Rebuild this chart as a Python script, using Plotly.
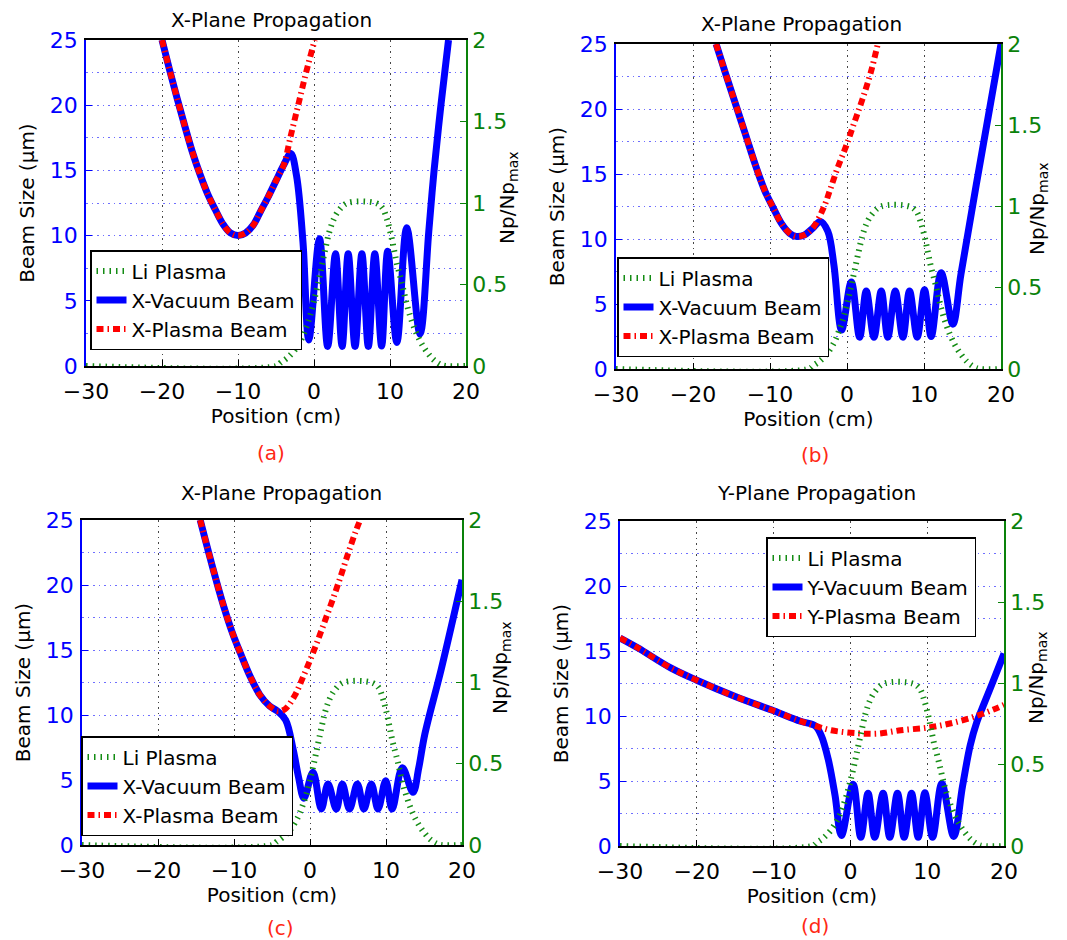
import plotly.graph_objects as go

W, H = 1067, 940

# ---------------- data ----------------
# Li plasma density profile (Np/Np_max), same in every panel
li_x = [-30, -5.0, -4.4, -3.5, -2.5, -1.6, -1.0, -0.5, 0.0, 0.5, 1.0, 1.5, 2.0, 2.5, 3.2, 4.4,
        8.1, 9.0, 9.6, 10.1, 10.5, 10.9, 11.4, 11.8, 12.2, 12.7, 13.3, 14.0, 14.8, 15.7, 16.6, 17.3, 20]
li_v = [0, 0, 0.02, 0.05, 0.10, 0.17, 0.24, 0.31, 0.40, 0.50, 0.61, 0.72, 0.82, 0.89, 0.95, 1.0,
        1.0, 0.97, 0.90, 0.81, 0.72, 0.63, 0.54, 0.46, 0.38, 0.30, 0.22, 0.15, 0.09, 0.04, 0.01, 0, 0]

# (a) X-plane
a_vac_x = [-20.0, -19, -18, -17, -16, -15, -14, -13, -12, -11, -10, -9, -8, -7, -6, -5, -4, -3.06,
           -2.3, -1.45, -0.68, 0.72, 1.8, 2.83, 3.7, 4.5, 5.4, 6.3, 7.15, 8.0, 8.9, 9.7, 10.9, 12.2,
           13.95, 15.1, 15.8, 16.7, 17.7]
a_vac_y = [25.0, 22.7, 20.5, 18.4, 16.4, 14.7, 13.2, 12.0, 10.9, 10.2, 10.0, 10.2, 10.8, 11.9, 13.0, 14.2, 15.4, 16.3,
           14.6, 9.5, 2.0, 9.75, 1.5, 8.6, 1.5, 8.6, 1.5, 8.6, 1.5, 8.6, 1.53, 8.8, 1.8, 10.6,
           2.45, 10.3, 15.0, 20.0, 25.0]
a_pla_x = [-20.0, -19, -18, -17, -16, -15, -14, -13, -12, -11, -10, -9, -8, -7, -6, -5, -4, -3, -2, -1, 0.1]
a_pla_y = [25.0, 22.7, 20.5, 18.4, 16.4, 14.7, 13.2, 12.0, 10.9, 10.2, 10.0, 10.2, 10.8, 11.9, 13.0, 14.2, 15.4,
           17.8, 20.2, 22.6, 25.0]

# (b) X-plane
b_vac_x = [-17.0, -15.7, -14.43, -13.16, -11.9, -10.63, -9.58, -8.52, -7.47, -6.62, -5.57, -4.5, -3.46,
           -2.5, -1.7, -0.7, 0.56, 1.64, 2.5, 3.5, 4.45, 5.3, 6.27, 7.26, 8.12, 9.12, 10.07, 10.93, 12.23,
           13.74, 14.8, 17.0, 20.0]
b_vac_y = [25.0, 22.6, 20.3, 18.0, 15.7, 13.65, 12.4, 11.2, 10.45, 10.2, 10.3, 10.8, 11.35,
           10.6, 8.0, 3.0, 6.7, 2.45, 6.0, 2.45, 6.0, 2.45, 6.0, 2.45, 6.0, 2.45, 6.1, 2.5, 7.4,
           3.45, 7.3, 14.9, 25.0]
b_pla_x = [-17.0, -15.7, -14.43, -13.16, -11.9, -10.63, -9.58, -8.52, -7.47, -6.62, -5.57, -4.5,
           -3.04, -2.19, -1.14, -0.08, 0.97, 2.03, 3.08, 4.0]
b_pla_y = [25.0, 22.6, 20.3, 18.0, 15.7, 13.65, 12.4, 11.2, 10.45, 10.2, 10.3, 10.8,
           12.4, 13.8, 15.6, 17.2, 19.0, 20.8, 22.8, 25.0]

# (c) X-plane
c_vac_x = [-14.45, -12.97, -11.48, -10.2, -9.15, -7.9, -6.6, -5.34, -4.28, -3.2, -2.2, -1.5, -0.8,
           0.39, 1.49, 2.37, 3.46, 4.25, 5.2, 6.23, 7.1, 8.07, 8.95, 9.96, 10.8, 12.15, 13.55,
           14.3, 15.1, 17.3, 20.0]
c_vac_y = [25.0, 21.7, 18.6, 16.3, 14.75, 13.0, 11.55, 10.7, 10.3, 9.6, 7.3, 5.2, 3.6,
           5.6, 2.77, 4.7, 2.77, 4.7, 2.77, 4.7, 2.77, 4.7, 2.77, 4.95, 2.77, 5.95, 4.05,
           5.9, 8.5, 13.6, 20.4]
c_pla_x = [-14.45, -12.97, -11.48, -10.2, -9.15, -7.9, -6.6, -5.34, -4.28, -3.3, -2.0, -1.0, 0.0,
           1.0, 2.0, 3.0, 4.0, 5.0, 6.0, 6.6]
c_pla_y = [25.0, 21.7, 18.6, 16.3, 14.75, 13.0, 11.55, 10.7, 10.3, 10.45, 11.5, 12.8, 14.2,
           15.7, 17.3, 18.9, 20.6, 22.4, 24.1, 25.0]

# (d) Y-plane
d_vac_x = [-30, -27.7, -23.4, -20, -15, -10, -6.5, -4.6, -3.8, -2.9, -2.0, -1.17,
           0.35, 1.35, 2.3, 3.17, 4.26, 5.13, 6.13, 7.0, 7.96, 8.83, 9.7, 10.7, 11.9, 13.45,
           14.6, 15.6, 16.47, 17.3, 18.4, 20.0]
d_vac_y = [16.0, 15.25, 13.7, 12.75, 11.5, 10.4, 9.6, 9.25, 8.5, 6.7, 3.9, 0.8,
           4.75, 0.67, 4.05, 0.67, 4.05, 0.67, 4.05, 0.67, 4.05, 0.67, 4.1, 0.67, 4.8, 0.74,
           4.6, 7.74, 9.54, 10.8, 12.4, 14.8]
d_pla_x = [-30, -27.7, -23.4, -20, -15, -10, -6.5, -4.6, -2.5, 1.0, 3.53, 6.55, 10.0, 12.8, 16.0, 19.05, 20.0]
d_pla_y = [16.0, 15.25, 13.7, 12.75, 11.5, 10.4, 9.6, 9.25, 8.9, 8.67, 8.64, 8.9, 9.1, 9.4, 9.92, 10.6, 10.85]

titles = ["X-Plane Propagation", "X-Plane Propagation", "X-Plane Propagation", "Y-Plane Propagation"]
captions = ["(a)", "(b)", "(c)", "(d)"]
li_name = "Li Plasma"
vac_names = ["X-Vacuum Beam", "X-Vacuum Beam", "X-Vacuum Beam", "Y-Vacuum Beam"]
pla_names = ["X-Plasma Beam", "X-Plasma Beam", "X-Plasma Beam", "Y-Plasma Beam"]
x_title = "Position (cm)"
y_left_title = "Beam Size (\u03bcm)"
y_right_title = "Np/Np<sub>max</sub>"
x_ticks = [-30, -20, -10, 0, 10, 20]
y_left_ticks = [0, 5, 10, 15, 20, 25]
y_right_ticks = [0, 0.5, 1, 1.5, 2]

vac = [(a_vac_x, a_vac_y), (b_vac_x, b_vac_y), (c_vac_x, c_vac_y), (d_vac_x, d_vac_y)]
pla = [(a_pla_x, a_pla_y), (b_pla_x, b_pla_y), (c_pla_x, c_pla_y), (d_pla_x, d_pla_y)]

# ---------------- styling / layout ----------------
FONT = "DejaVu Sans"
BLUE = "rgb(0,0,255)"
RED = "rgb(255,0,0)"
GREEN = "rgb(20,140,20)"
TICK_GREEN = "rgb(10,130,10)"
GRID_BLUE = "rgb(110,110,255)"
GRID_BLACK = "rgb(70,70,70)"
GRID_DASH = "1.5px,4px"

# plot-area boxes in pixels (left, right, top, bottom)
boxes = [(78, 458, 32, 358), (608, 993, 36, 361), (74, 454, 512, 837), (612, 996, 513, 838)]
title_pos = [(263, 12), (793, 16), (273, 485), (808, 485)]
cap_pos = [(263, 445), (807, 447), (272, 920), (807, 918)]
leg_pos = [(82, 242), (609, 249), (73, 728), (758, 529)]
rtitle_pos = [(500, 190), (1030, 201), (493, 660), (1029, 670)]

fig = go.Figure()
layout = dict(
    width=W, height=H, margin=dict(l=0, r=0, t=0, b=0), autosize=False,
    paper_bgcolor="white", plot_bgcolor="white",
    font=dict(family=FONT, size=20, color="black"),
    showlegend=True, annotations=[],
)

for i in range(4):
    xa = "x" if i == 0 else f"x{i + 1}"
    yl = "y" if i == 0 else f"y{2 * i + 1}"
    yr = f"y{2 * i + 2}"
    leg = "legend" if i == 0 else f"legend{i + 1}"
    l, r, t, b = boxes[i]
    xdom = [l / W, r / W]
    ydom = [1 - b / H, 1 - t / H]

    fig.add_trace(go.Scatter(x=li_x, y=li_v, xaxis=xa, yaxis=yr, mode="lines", name=li_name,
                             legend=leg, line=dict(color=GREEN, width=6, dash="1.5px,5px", shape="spline")))
    fig.add_trace(go.Scatter(x=vac[i][0], y=vac[i][1], xaxis=xa, yaxis=yl, mode="lines", name=vac_names[i],
                             legend=leg, line=dict(color=BLUE, width=7, shape="spline")))
    fig.add_trace(go.Scatter(x=pla[i][0], y=pla[i][1], xaxis=xa, yaxis=yl, mode="lines", name=pla_names[i],
                             legend=leg, line=dict(color=RED, width=6, dash="7px,4px,1.5px,4px", shape="spline")))

    xkey = "xaxis" if i == 0 else f"xaxis{i + 1}"
    ylkey = "yaxis" if i == 0 else f"yaxis{2 * i + 1}"
    yrkey = f"yaxis{2 * i + 2}"
    layout[xkey] = dict(
        domain=xdom, anchor=yl, range=[-30, 20], tickmode="array", tickvals=x_ticks,
        ticks="inside", ticklen=6, tickcolor="black", showline=True, linecolor="black", linewidth=1.5,
        mirror=True, showgrid=True, gridcolor=GRID_BLACK, griddash=GRID_DASH, gridwidth=1,
        zeroline=False, tickfont=dict(size=22, color="black", family=FONT), ticklabelstandoff=5,
        title=dict(text=x_title, font=dict(size=20, color="black"), standoff=0),
        automargin=False,
    )
    layout[ylkey] = dict(
        domain=ydom, anchor=xa, range=[0, 25], tickmode="array", tickvals=y_left_ticks,
        ticks="inside", ticklen=6, tickcolor=BLUE, showline=True, linecolor=BLUE, linewidth=1.5,
        showgrid=True, gridcolor=GRID_BLUE, griddash=GRID_DASH, gridwidth=1, zeroline=False,
        minor=dict(dtick=2.5, tick0=0, showgrid=True, gridcolor=GRID_BLUE, griddash=GRID_DASH, gridwidth=1),
        tickfont=dict(size=22, color=BLUE, family=FONT), ticklabelstandoff=2,
        title=dict(text=y_left_title, font=dict(size=20, color="black"), standoff=10),
        automargin=False,
    )
    layout[yrkey] = dict(
        overlaying=yl, side="right", anchor=xa, range=[0, 2], tickmode="array", tickvals=y_right_ticks,
        ticks="inside", ticklen=6, tickcolor=TICK_GREEN, showline=True, linecolor=TICK_GREEN, linewidth=1.5,
        showgrid=False, zeroline=False, tickfont=dict(size=22, color=TICK_GREEN, family=FONT),
        automargin=False,
    )
    lx, ly = leg_pos[i]
    layout[leg] = dict(
        x=lx / W, y=1 - ly / H, xanchor="left", yanchor="top", bgcolor="white",
        bordercolor="black", borderwidth=1.5, font=dict(size=20, color="black", family=FONT),
        itemwidth=30, tracegroupgap=0,
    )
    tx, ty = title_pos[i]
    layout["annotations"].append(dict(
        text=titles[i], x=tx / W, y=1 - ty / H, xref="paper", yref="paper",
        xanchor="center", yanchor="middle", showarrow=False, font=dict(size=20, color="black", family=FONT)))
    cx, cy = cap_pos[i]
    layout["annotations"].append(dict(
        text=captions[i], x=cx / W, y=1 - cy / H, xref="paper", yref="paper",
        xanchor="center", yanchor="middle", showarrow=False, font=dict(size=20, color="rgb(255,40,20)", family=FONT)))
    rx, ry = rtitle_pos[i]
    layout["annotations"].append(dict(
        text=y_right_title, x=rx / W, y=1 - ry / H, xref="paper", yref="paper", textangle=-90,
        xanchor="center", yanchor="middle", showarrow=False, font=dict(size=20, color="black", family=FONT)))

fig.update_layout(**layout)
fig.write_html("out.html")
